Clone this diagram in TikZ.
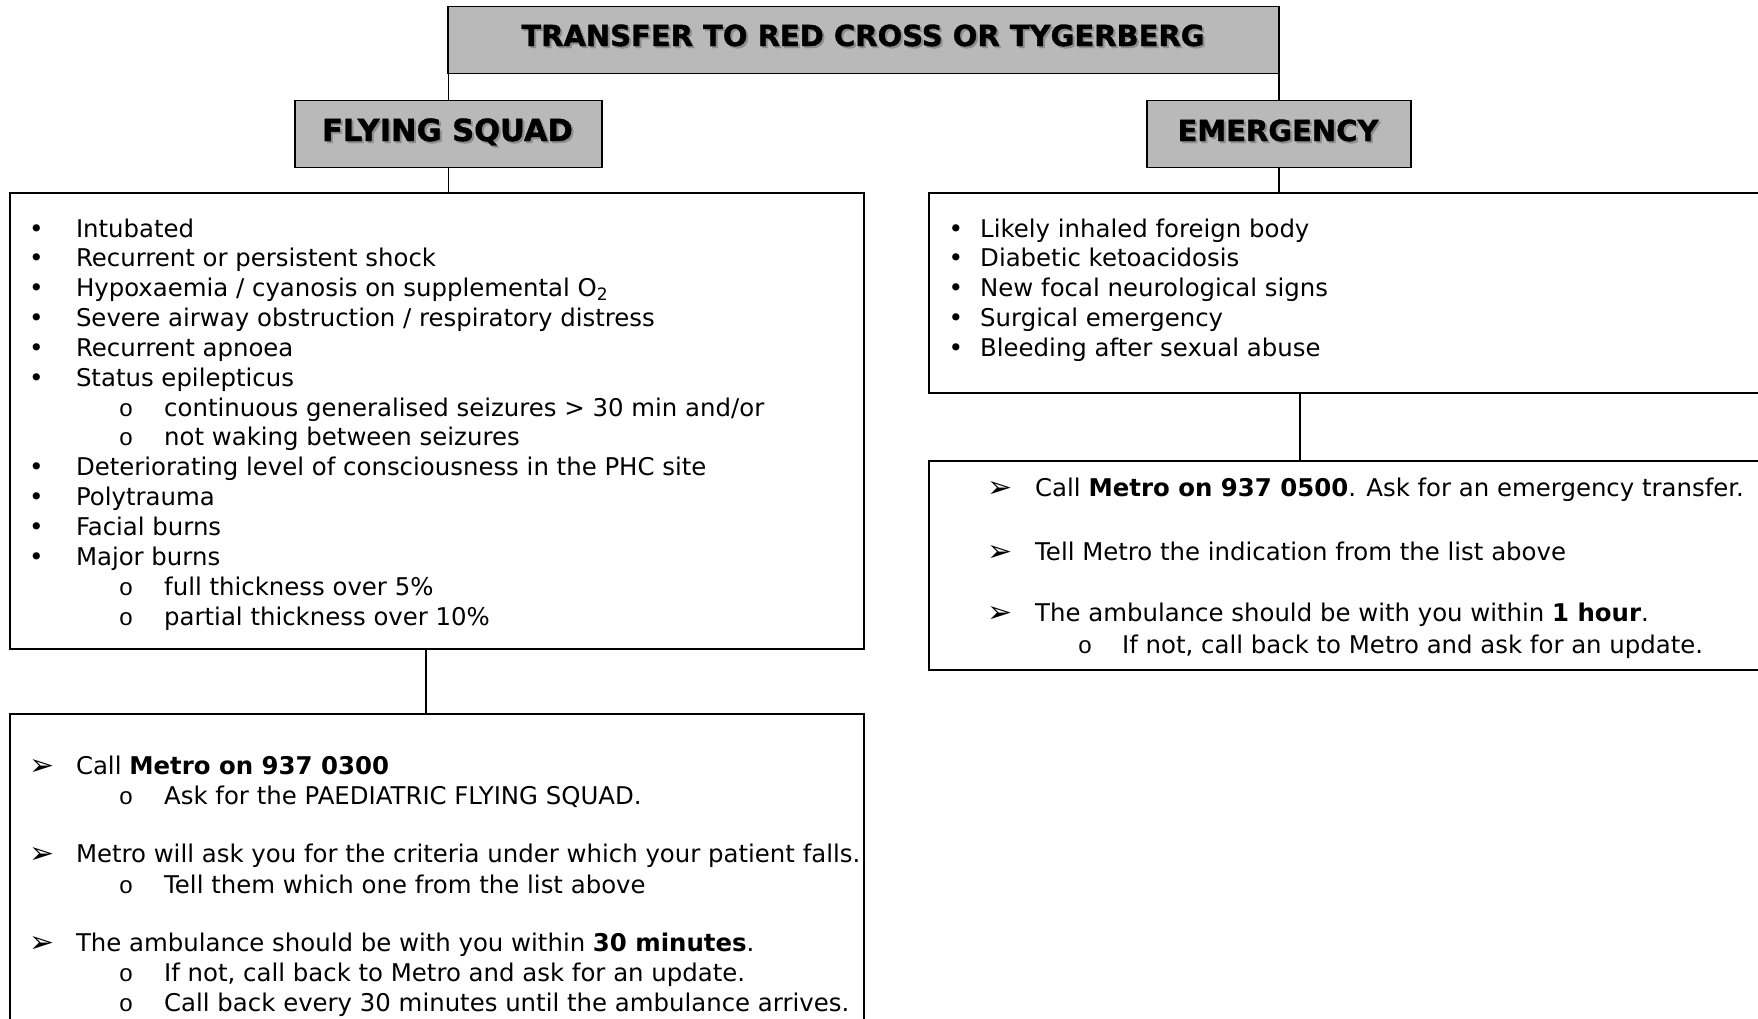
\documentclass[tikz,border=0pt]{standalone}
\usepackage{fontspec}
\setmainfont{DejaVu Sans}
\newfontfamily\smallofont{Liberation Mono}
\newfontfamily\hdrfont[FakeBold=1.2]{DejaVu Sans Bold}
\newcommand{\shtext}[1]{\makebox[0pt][l]{\hspace{2pt}\raisebox{-2pt}{\color{black!45}#1}}#1}
\begin{document}
\begin{tikzpicture}[x=1pt,y=-1pt,
  hdr/.style={draw=black, line width=1.8pt, fill=gray!55, inner sep=0pt, anchor=north west},
  listbox/.style={draw=black, line width=1.8pt, fill=white, inner sep=0pt, anchor=north west},
  conn/.style={line width=1.4pt},
  ttl/.style={anchor=base, inner sep=0pt, font=\hdrfont\fontsize{29}{34}\selectfont},
  txt/.style={anchor=base west, inner sep=0pt, font=\fontsize{24.4}{30}\selectfont},
  bul/.style={anchor=base, inner sep=0pt, font=\fontsize{24.7}{30}\selectfont},
  subo/.style={anchor=base, inner sep=0pt, font=\smallofont\fontsize{24}{28}\selectfont},
  arr/.style={anchor=base, inner sep=0pt, font=\fontsize{30}{34}\selectfont}]
\useasboundingbox (0,0) rectangle (1758,1018);
\clip (0,0) rectangle (1758,1018);
\fill[white] (0,0) rectangle (1758,1018);

% header boxes
\node[hdr, minimum width=831pt, minimum height=67pt] (title) at (447,5.6) {};
\node[hdr, minimum width=307pt, minimum height=67pt] (fs) at (294,99.5) {};
\node[hdr, minimum width=264pt, minimum height=67pt] (em) at (1146,99.5) {};
\node[ttl] (titlet) at (863,46) {\shtext{TRANSFER TO RED CROSS OR TYGERBERG}};
\node[ttl, font=\hdrfont\fontsize{30.5}{34}\selectfont] (fst) at (447.5,141) {\shtext{FLYING SQUAD}};
\node[ttl] (emt) at (1278,141) {\shtext{EMERGENCY}};

% content boxes
\node[listbox, minimum width=854pt, minimum height=456pt] (L1) at (9,192) {};
\node[listbox, minimum width=854pt, minimum height=340pt] (L2) at (9,713) {};
\node[listbox, minimum width=862pt, minimum height=200pt] (R1) at (928,192) {};
\node[listbox, minimum width=862pt, minimum height=209pt] (R2) at (928,460) {};

% connectors
\draw[conn] (fs.north |- title.south) -- (fs.north);
\draw[conn] (em.north |- title.south) -- (em.north);
\draw[conn] (fs.south) -- (fs.south |- L1.north);
\draw[conn] (em.south) -- (em.south |- R1.north);
\draw[conn] ([xshift=417pt]L1.south west) -- ([xshift=417pt]L2.north west);
\draw[conn] ([xshift=372pt]R1.south west) -- ([xshift=372pt]R2.north west);

% left criteria list
\node[bul] (lb0) at (36.5,237) {•};
\node[txt] (lt0) at (75.8,237) {Intubated};
\node[bul] (lb1) at (36.5,266.85) {•};
\node[txt] (lt1) at (75.8,266.85) {Recurrent or persistent shock};
\node[bul] (lb2) at (36.5,296.7) {•};
\node[txt] (lt2) at (75.8,296.7) {Hypoxaemia / cyanosis on supplemental O\textsubscript{2}};
\node[bul] (lb3) at (36.5,326.55) {•};
\node[txt] (lt3) at (75.8,326.55) {Severe airway obstruction / respiratory distress};
\node[bul] (lb4) at (36.5,356.4) {•};
\node[txt] (lt4) at (75.8,356.4) {Recurrent apnoea};
\node[bul] (lb5) at (36.5,386.25) {•};
\node[txt] (lt5) at (75.8,386.25) {Status epilepticus};
\node[subo] (lb6) at (126,416.1) {o};
\node[txt] (lt6) at (164,416.1) {continuous generalised seizures > 30 min and/or};
\node[subo] (lb7) at (126,445.95) {o};
\node[txt] (lt7) at (164,445.95) {not waking between seizures};
\node[bul] (lb8) at (36.5,475.8) {•};
\node[txt] (lt8) at (75.8,475.8) {Deteriorating level of consciousness in the PHC site};
\node[bul] (lb9) at (36.5,505.65) {•};
\node[txt] (lt9) at (75.8,505.65) {Polytrauma};
\node[bul] (lb10) at (36.5,535.5) {•};
\node[txt] (lt10) at (75.8,535.5) {Facial burns};
\node[bul] (lb11) at (36.5,565.35) {•};
\node[txt] (lt11) at (75.8,565.35) {Major burns};
\node[subo] (lb12) at (126,595.2) {o};
\node[txt] (lt12) at (164,595.2) {full thickness over 5\%};
\node[subo] (lb13) at (126,625.05) {o};
\node[txt] (lt13) at (164,625.05) {partial thickness over 10\%};

% right criteria list
\node[bul] (rb0) at (956,237) {•};
\node[txt] (rt0) at (980,237) {Likely inhaled foreign body};
\node[bul] (rb1) at (956,266.85) {•};
\node[txt] (rt1) at (980,266.85) {Diabetic ketoacidosis};
\node[bul] (rb2) at (956,296.7) {•};
\node[txt] (rt2) at (980,296.7) {New focal neurological signs};
\node[bul] (rb3) at (956,326.55) {•};
\node[txt] (rt3) at (980,326.55) {Surgical emergency};
\node[bul] (rb4) at (956,356.4) {•};
\node[txt] (rt4) at (980,356.4) {Bleeding after sexual abuse};

% right action box
\node[arr] (ra0) at (1000,497) {➢};
\node[txt] (ra0t) at (1035,496) {Call \textbf{Metro on 937 0500}. Ask for an emergency transfer.};
\node[arr] (ra1) at (1000,561) {➢};
\node[txt] (ra1t) at (1035,560) {Tell Metro the indication from the list above};
\node[arr] (ra2) at (1000,622.7) {➢};
\node[txt] (ra2t) at (1035,621.7) {The ambulance should be with you within \textbf{1 hour}.};
\node[subo] (ra3) at (1085,653) {o};
\node[txt] (ra3t) at (1122,653) {If not, call back to Metro and ask for an update.};

% left action box
\node[arr] (la0) at (42,775) {➢};
\node[txt] (la0t) at (75.8,774) {Call \textbf{Metro on 937 0300}};
\node[subo] (la1) at (126,804) {o};
\node[txt] (la1t) at (164,804) {Ask for the PAEDIATRIC FLYING SQUAD.};
\node[arr] (la2) at (42,863.7) {➢};
\node[txt] (la2t) at (75.8,862.7) {Metro will ask you for the criteria under which your patient falls.};
\node[subo] (la3) at (126,893) {o};
\node[txt] (la3t) at (164,893) {Tell them which one from the list above};
\node[arr] (la4) at (42,952.7) {➢};
\node[txt] (la4t) at (75.8,951.7) {The ambulance should be with you within \textbf{30 minutes}.};
\node[subo] (la5) at (126,981.7) {o};
\node[txt] (la5t) at (164,981.7) {If not, call back to Metro and ask for an update.};
\node[subo] (la6) at (126,1011.7) {o};
\node[txt] (la6t) at (164,1011.7) {Call back every 30 minutes until the ambulance arrives.};
\end{tikzpicture}
\end{document}
